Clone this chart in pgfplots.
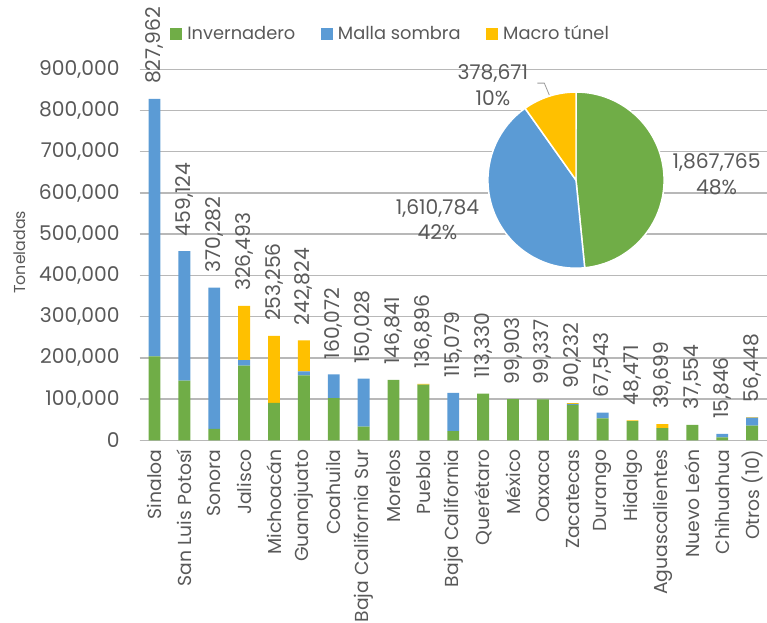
\documentclass[border=0pt]{standalone}
\usepackage{fontspec}
\setmainfont{Poppins}
\usepackage{pgfplots}
\usepackage{pgfplotstable}
\pgfplotsset{compat=1.18}

\definecolor{inv}{HTML}{70AD47}
\definecolor{mal}{HTML}{5B9BD5}
\definecolor{mac}{HTML}{FFC000}
\definecolor{txt}{HTML}{595959}
\definecolor{rejilla}{RGB}{184,184,184}

% toneladas por estado: invernadero, malla sombra, macro tunel, total
\pgfplotstableread{
x green blue yellow total
0  204000 623962 0      827962
1  144800 314324 0      459124
2  28000  342282 0      370282
3  181600 12800  132093 326493
4  91200  0      162056 253256
5  157600 9600   75624  242824
6  102400 57672  0      160072
7  33600  116428 0      150028
8  146841 0      0      146841
9  135400 0      1496   136896
10 22400  92679  0      115079
11 113330 0      0      113330
12 99903  0      0      99903
13 99337  0      0      99337
14 86000  2700   1532   90232
15 53600  13943  0      67543
16 47000  0      1471   48471
17 29600  0      10099  39699
18 37554  0      0      37554
19 7200   8646   0      15846
20 36000  19248  1200   56448
}\datos

\newcommand{\numf}{\fontsize{20.5}{26}\selectfont}
\newcommand{\catf}{\fontsize{19}{22}\selectfont}
\newcommand{\legf}{\fontsize{18}{22}\selectfont}
\newcommand{\ylf}{\fontsize{16}{19}\selectfont}

\pgfplotsset{
  marco/.style={
    at={(0pt,0pt)}, anchor=south west,
    width=634pt, height=375pt, scale only axis,
    xmin=-0.5, xmax=20.5, ymin=0, ymax=900000, clip=false,
    /pgf/number format/.cd, fixed, precision=0, 1000 sep={,},
      assume math mode=true,
    /pgfplots/.cd,
  },
}

\begin{document}
% angulos del pastel (miles de toneladas)
\pgfmathsetmacro{\aG}{1867.765/3857.22*360}
\pgfmathsetmacro{\aB}{1610.784/3857.22*360}
\pgfmathsetmacro{\aY}{378.671/3857.22*360}
\begin{tikzpicture}
\useasboundingbox (-133pt,-184pt) rectangle (634pt,445pt);
\begin{axis}[
  marco,
  ybar stacked, bar width=12pt,
  xtick={0,...,20},
  xticklabels={Sinaloa, San Luis Potosí, Sonora, Jalisco, Michoacán,
    Guanajuato, Coahuila, Baja California Sur, Morelos, Puebla,
    Baja California, Querétaro, México, Oaxaca, Zacatecas, Durango,
    Hidalgo, Aguascalientes, Nuevo León, Chihuahua, Otros (10)},
  ytick={0,100000,...,900000},
  scaled y ticks=false,
  grid=major,
  grid style={draw=rejilla, line width=1.5pt},
  xmajorgrids=false,
  axis x line*=bottom, axis y line*=left,
  x axis line style={draw=rejilla, line width=1.5pt, -},
  y axis line style={draw=none},
  tick style={draw=none},
  xticklabel style={rotate=90, anchor=east, inner sep=0pt, font=\catf,
    text=txt},
  xticklabel shift=9pt,
  yticklabel style={anchor=east, inner sep=0pt, font=\numf, text=txt},
  yticklabel shift=20pt,
  ylabel={\ylf Toneladas},
  every axis y label/.style={at={(axis description cs:-0.191,0.507)},
    rotate=90, anchor=center, text=txt},
  legend columns=3,
  legend style={at={(axis description cs:0.049,1.096)}, anchor=west,
    draw=none, fill=none, inner sep=0pt, font=\legf, text=txt,
    /tikz/every odd column/.append style={column sep=3pt},
    /tikz/every even column/.append style={column sep=24pt}},
  legend image code/.code={\fill[#1] (0pt,-6pt) rectangle (12pt,6pt);},
]
\addplot[fill=inv, draw=none] table[x=x, y=green]{\datos};
\addplot[fill=mal, draw=none] table[x=x, y=blue]{\datos};
\addplot[fill=mac, draw=none] table[x=x, y=yellow]{\datos};
\legend{Invernadero, Malla sombra, Macro túnel}
\end{axis}

% totales sobre cada barra
\begin{axis}[marco, hide axis]
\addplot[draw=none, mark=none, point meta=y, nodes near coords,
  nodes near coords style={yshift=15pt, rotate=90, anchor=west,
    inner sep=0pt, font=\numf, text=txt}]
  table[x=x, y=total]{\datos};
\end{axis}

\begin{axis}[
  at={(441pt,263pt)}, anchor=center,
  width=178pt, height=178pt, scale only axis,
  hide axis, xmin=-1, xmax=1, ymin=-1, ymax=1, clip=false,
]
\fill[inv, draw=white, line width=1.5pt] (axis cs:0,0)
  -- ([shift={(90:89pt)}]axis cs:0,0)
  arc[start angle=90, delta angle=-\aG, radius=89pt] -- cycle;
\fill[mal, draw=white, line width=1.5pt] (axis cs:0,0)
  -- ([shift={(90-\aG:89pt)}]axis cs:0,0)
  arc[start angle=90-\aG, delta angle=-\aB, radius=89pt] -- cycle;
\fill[mac, draw=white, line width=1.5pt] (axis cs:0,0)
  -- ([shift={(90-\aG-\aB:89pt)}]axis cs:0,0)
  arc[start angle=90-\aG-\aB, delta angle=-\aY, radius=89pt] -- cycle;
\draw[txt!60, line width=0.8pt] ([shift={(-39pt,98pt)}]axis cs:0,0)
  -- ([shift={(-32pt,98pt)}]axis cs:0,0)
  -- ([shift={(-27pt,86pt)}]axis cs:0,0);
\node[align=center, font=\numf, text=txt, inner sep=0pt]
  at ([shift={(142pt,6pt)}]axis cs:0,0) {1,867,765\\48\%};
\node[align=center, font=\numf, text=txt, inner sep=0pt]
  at ([shift={(-140pt,-40pt)}]axis cs:0,0) {1,610,784\\42\%};
\node[align=center, font=\numf, text=txt, inner sep=0pt]
  at ([shift={(-84pt,96pt)}]axis cs:0,0) {378,671\\10\%};
\end{axis}
\end{tikzpicture}
\end{document}
